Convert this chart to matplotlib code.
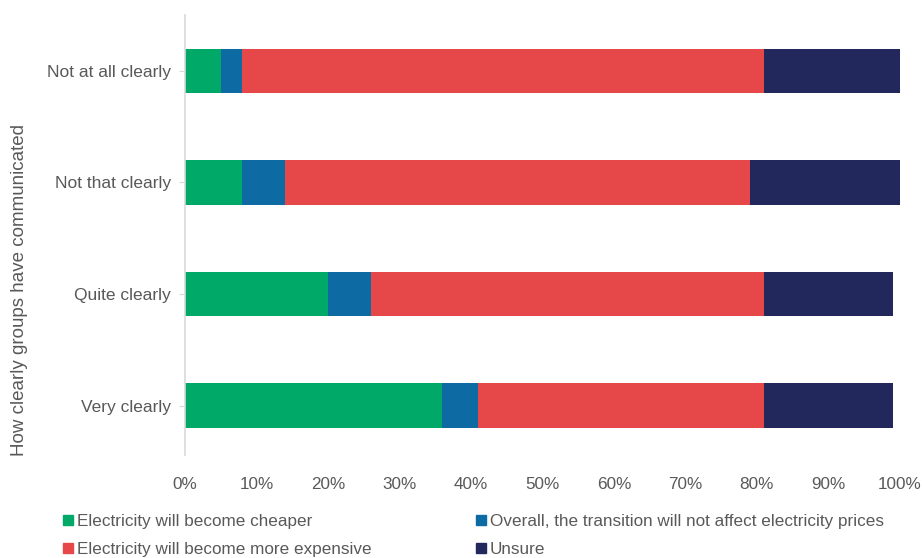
import matplotlib.pyplot as plt
from matplotlib.lines import Line2D
from matplotlib.ticker import PercentFormatter
import numpy as np

plt.rcParams['font.family'] = ['Liberation Sans', 'DejaVu Sans']

# === 数据 ===
categories = ["Very clearly", "Quite clearly", "Not that clearly", "Not at all clearly"]
cheaper = [36, 20, 8, 5]
no_effect = [5, 6, 6, 3]
expensive = [40, 55, 65, 73]
unsure = [18, 18, 21, 19]

series_names = [
    "Electricity will become cheaper",
    "Overall, the transition will not affect electricity prices",
    "Electricity will become more expensive",
    "Unsure",
]
colors = ["#00A968", "#0E6AA3", "#E64749", "#22285C"]
text_color = "#595959"

fig = plt.figure(figsize=(9.23, 5.58), dpi=100)
ax = fig.add_axes([0.2004, 0.185, 0.7746, 0.788])

y = np.arange(len(categories))
left = np.zeros(len(categories))
for vals, col in zip([cheaper, no_effect, expensive, unsure], colors):
    ax.barh(y, vals, left=left, height=0.4, color=col)
    left += np.array(vals)

ax.set_xlim(0, 100)
ax.set_ylim(-0.44, 3.5)
ax.set_yticks(y)
ax.set_yticklabels(categories, fontsize=12.5, color=text_color)
ax.xaxis.set_major_locator(plt.MultipleLocator(10))
ax.xaxis.set_major_formatter(PercentFormatter(decimals=0))
ax.tick_params(axis='x', length=0, labelsize=12.3, labelcolor=text_color, pad=16)
ax.tick_params(axis='y', length=4, color="#D9D9D9", pad=6)

for s in ["top", "right", "bottom"]:
    ax.spines[s].set_visible(False)
ax.spines["left"].set_color("#D9D9D9")
ax.spines["left"].set_linewidth(1.2)

fig.text(0.021, 0.48, "How clearly groups have communicated", rotation=90,
         ha='center', va='center', fontsize=13.5, color=text_color)

# 图例（两列）
handles = [Line2D([], [], marker='s', linestyle='none', markersize=6.5, color=c) for c in colors]
order = [0, 2, 1, 3]
fig.legend([handles[i] for i in order], [series_names[i] for i in order],
           ncol=2, loc='lower left', bbox_to_anchor=(0.052, -0.025), frameon=False,
           fontsize=12.3, labelcolor=text_color, handlelength=0.6, handletextpad=0.2,
           columnspacing=6.1, labelspacing=0.72)

plt.savefig("out.png", dpi=100)
